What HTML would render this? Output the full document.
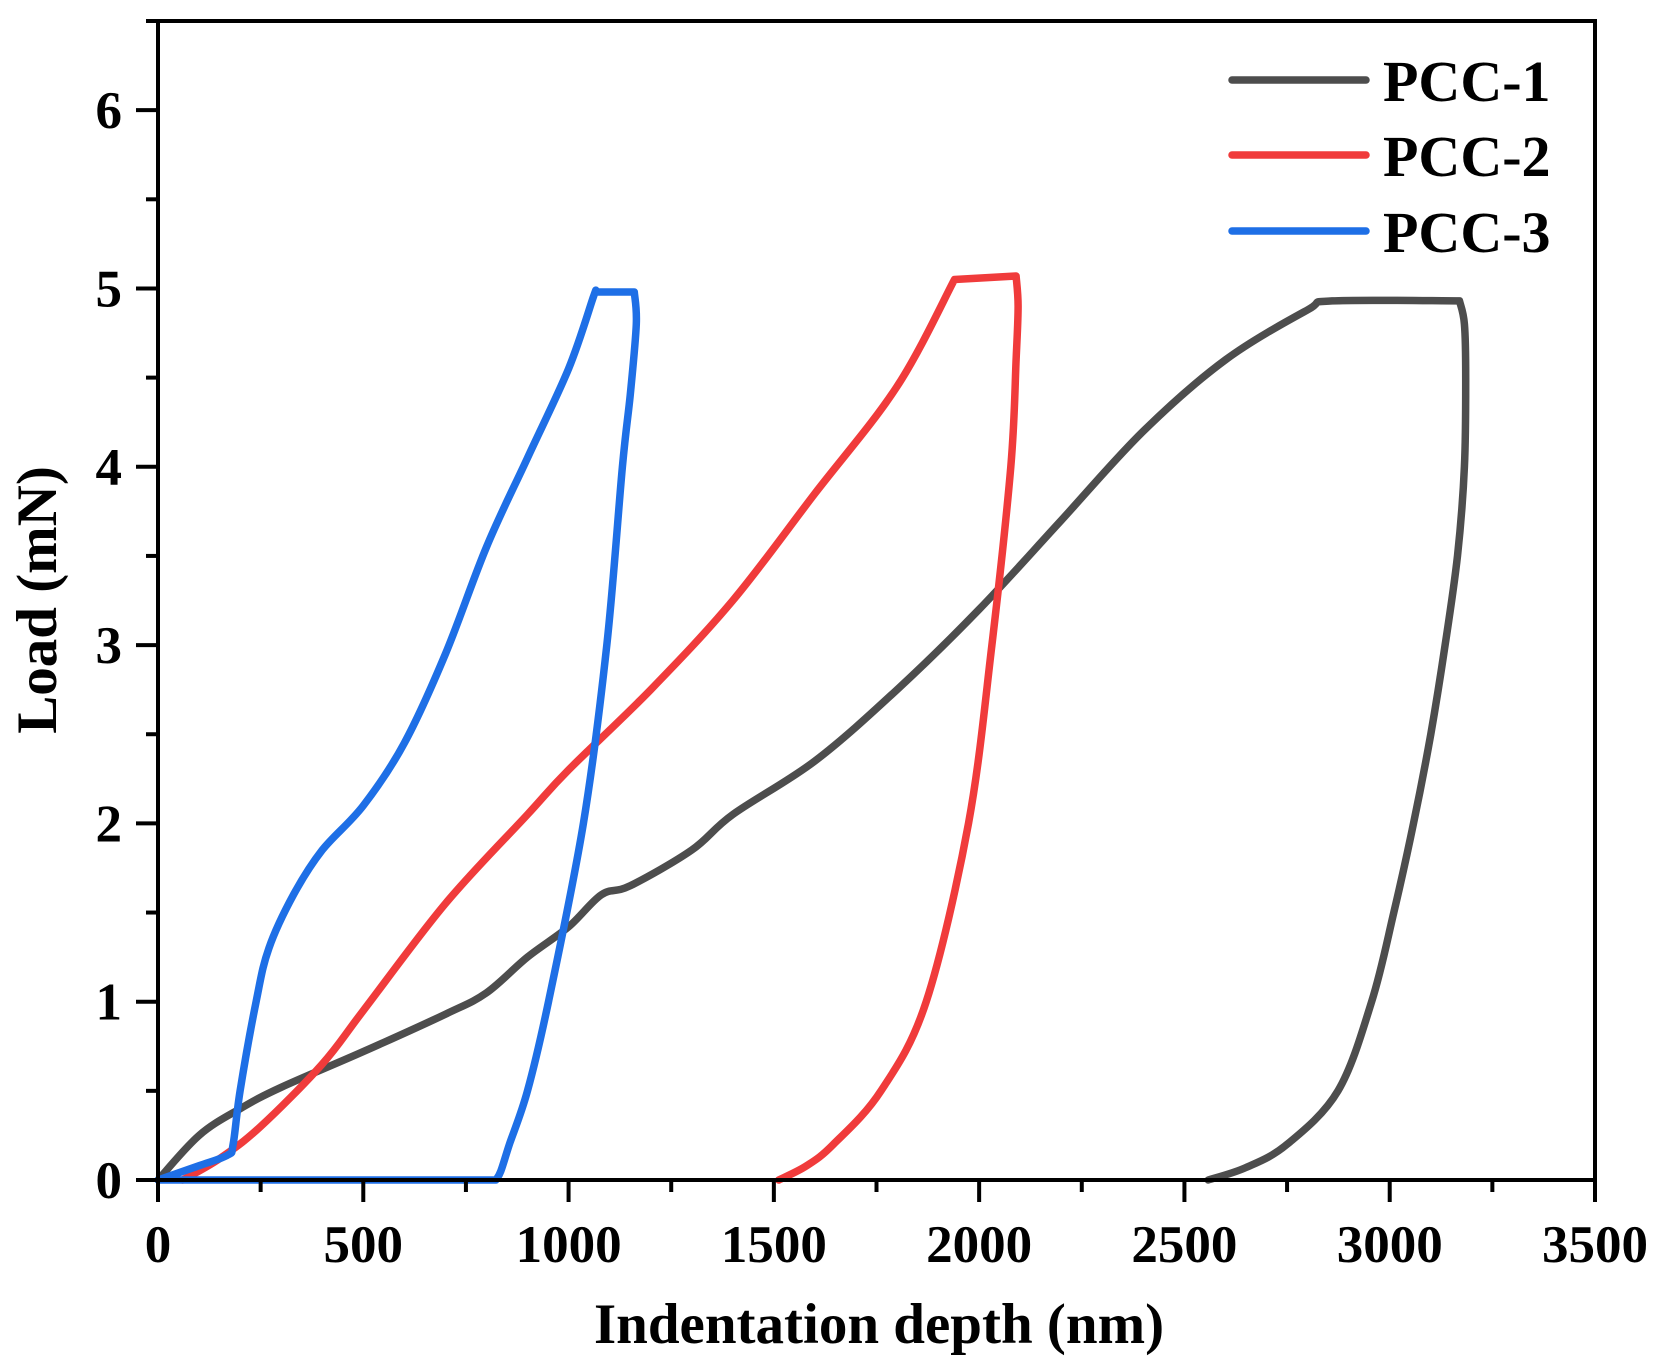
<!DOCTYPE html>
<html><head><meta charset="utf-8"><style>
html,body{margin:0;padding:0;background:#fff;}
svg text{font-family:"Liberation Serif",serif;font-weight:bold;fill:#000;}
</style></head><body>
<svg id="chart" width="1654" height="1365" viewBox="0 0 1654 1365" xmlns="http://www.w3.org/2000/svg">
<g id="series"></g>
<g id="axes"></g>
<g id="legend"></g>
</svg>
<script>
const xTicks = [0,500,1000,1500,2000,2500,3000,3500];
const yTicks = [0,1,2,3,4,5,6];
const seriesNames = ["PCC-1","PCC-2","PCC-3"];
const seriesColors = ["#4d4d4d","#f03b3b","#1e6fe6"];
const pcc1X = [0,100,200,300,500,700,800,900,1000,1080,1150,1300,1400,1600,1800,2000,2200,2400,2600,2800,2860,3170,3182,3185,3182,3165,3135,3100,3058,3010,2956,2874,2750,2650,2558];
const pcc1Y = [0,0.25,0.4,0.52,0.72,0.93,1.05,1.25,1.42,1.6,1.65,1.85,2.05,2.35,2.75,3.2,3.7,4.2,4.6,4.88,4.93,4.93,4.8,4.5,4.0,3.5,3.0,2.5,2.0,1.5,1.0,0.5,0.2,0.07,0];
const pcc2X = [60,150,250,400,500,700,900,1000,1200,1400,1600,1800,1940,2090,2095,2090,2077,2031,1974,1871,1761,1645,1580,1512];
const pcc2Y = [0,0.12,0.3,0.65,0.95,1.55,2.05,2.3,2.75,3.25,3.85,4.45,5.05,5.07,4.9,4.6,4.0,3.0,2.0,1.0,0.5,0.2,0.08,0];
const pcc3X = [0,100,170,183,200,239,270,330,400,500,600,700,800,900,1000,1060,1065,1160,1165,1150,1131,1093,1036,951,900,856,835,823,0];
const pcc3Y = [0,0.08,0.14,0.2,0.5,1.0,1.3,1.6,1.85,2.1,2.45,2.95,3.55,4.05,4.55,4.95,4.98,4.98,4.8,4.4,4.0,3.0,2.0,1.0,0.5,0.2,0.05,0,0];

const NS="http://www.w3.org/2000/svg";
const X0=158,X1=1595,Y0=1180,Y1=21;
const xs=v=>X0+(v/3500)*(X1-X0);
const ys=v=>Y0-(v/6.5)*(Y0-Y1);
function mk(tag,attrs,parent){const e=document.createElementNS(NS,tag);for(const k in attrs)e.setAttribute(k,attrs[k]);parent.appendChild(e);return e;}
function isCorner(P,i){
  if(i<=0||i>=P.length-1) return true;
  const a=[P[i][0]-P[i-1][0],P[i][1]-P[i-1][1]], b=[P[i+1][0]-P[i][0],P[i+1][1]-P[i][1]];
  const la=Math.hypot(a[0],a[1]), lb=Math.hypot(b[0],b[1]);
  if(!la||!lb) return true;
  return (a[0]*b[0]+a[1]*b[1])/(la*lb) < 0.55;
}
function smooth(P){
  let d='M'+P[0][0].toFixed(1)+' '+P[0][1].toFixed(1);
  for(let i=0;i<P.length-1;i++){
    const p1=P[i],p2=P[i+1];
    const p0=isCorner(P,i)?p1:P[i-1];
    const p3=isCorner(P,i+1)?p2:P[i+2];
    const k=1/6;
    const c1=[p1[0]+(p2[0]-p0[0])*k,p1[1]+(p2[1]-p0[1])*k];
    const c2=[p2[0]-(p3[0]-p1[0])*k,p2[1]-(p3[1]-p1[1])*k];
    d+=' C'+c1[0].toFixed(1)+' '+c1[1].toFixed(1)+' '+c2[0].toFixed(1)+' '+c2[1].toFixed(1)+' '+p2[0].toFixed(1)+' '+p2[1].toFixed(1);
  }
  return d;
}

const sg=document.getElementById('series');
const allX=[pcc1X,pcc2X,pcc3X], allY=[pcc1Y,pcc2Y,pcc3Y];
for(let s=0;s<3;s++){
  const P=allX[s].map((x,i)=>[xs(x),ys(allY[s][i])]);
  const p=mk('path',{d:smooth(P),fill:'none',stroke:seriesColors[s],'stroke-width':7.5,'stroke-linejoin':'round','stroke-linecap':'round'},sg);
  
  
}

const ag=document.getElementById('axes');
const frame=mk('rect',{x:X0,y:Y1,width:X1-X0,height:Y0-Y1,fill:'none',stroke:'#000','stroke-width':4},ag);


for(let v=0;v<=3500;v+=250){
  const major=v%500===0;
  const t=mk('line',{x1:xs(v),x2:xs(v),y1:Y0,y2:Y0+(major?22:12),stroke:'#000','stroke-width':4},ag);
  
  
}
xTicks.forEach(v=>{
  const t=mk('text',{x:xs(v),y:1262,'text-anchor':'middle','font-size':53},ag);
  t.textContent=v;
  
  
});
for(let v=0;v<=6.5;v+=0.5){
  const major=Math.abs(v-Math.round(v))<1e-6;
  const t=mk('line',{x1:X0,x2:X0-(major?22:12),y1:ys(v),y2:ys(v),stroke:'#000','stroke-width':4},ag);
  
  
}
yTicks.forEach(v=>{
  const t=mk('text',{x:122,y:ys(v)+18,'text-anchor':'end','font-size':53},ag);
  t.textContent=v;
  
  
});
const xt=mk('text',{x:879,y:1343,'text-anchor':'middle','font-size':57},ag);
xt.textContent='Indentation depth (nm)';


const yt=mk('text',{x:0,y:0,'text-anchor':'middle','font-size':57,transform:'translate(56,600) rotate(-90)'},ag);
yt.textContent='Load (mN)';



const lg=document.getElementById('legend');
const rows=[80,155,231];
for(let s=0;s<3;s++){
  const l=mk('line',{x1:1232,x2:1366,y1:rows[s],y2:rows[s],stroke:seriesColors[s],'stroke-width':7.5,'stroke-linecap':'round'},lg);
  
  
  const t=mk('text',{x:1383,y:rows[s]+21,'font-size':58},lg);
  t.textContent=seriesNames[s];
  
  
}
</script>
</body></html>
